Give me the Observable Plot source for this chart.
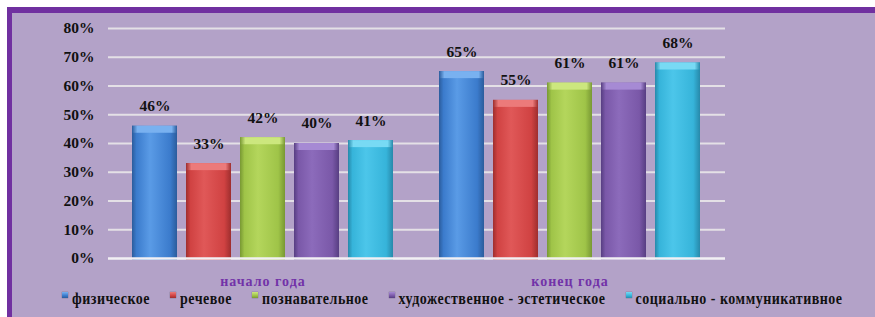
<!DOCTYPE html>
<html><head><meta charset="utf-8">
<script src="https://cdn.jsdelivr.net/npm/d3@7"></script>
<script src="https://cdn.jsdelivr.net/npm/@observablehq/plot@0.6"></script>
<style>
html,body{margin:0;padding:0}
body{background:#fff;width:875px;height:317px;overflow:hidden;position:relative;font-family:"Liberation Serif",serif}
#frame{position:absolute;left:7px;top:7px;width:868px;height:310px;box-sizing:border-box;border-top:6px solid #7030a0;border-left:5px solid #7030a0;background:#b3a2c8}
.layer{position:absolute;left:0;top:0}
.layer svg{background:transparent;overflow:visible}
#legend{position:absolute;left:62px;top:292px;display:flex;gap:20px}
.item{display:flex;align-items:flex-start}
.sw{width:6px;height:6px;margin-top:0px;margin-right:4px;box-shadow:0 0 1px rgba(0,0,0,.5)}
.lab{font:bold 14px "Liberation Serif",serif;line-height:16px;letter-spacing:0.5px;color:#111;white-space:nowrap;transform:scaleY(1.25);transform-origin:50% 13px}
#bars g[aria-label="fx-axis tick label"] text{letter-spacing:1px}
</style>
</head><body>
<div id="frame"></div>
<svg width="0" height="0" style="position:absolute"><defs id="defs"></defs></svg>
<div id="grid" class="layer"></div>
<div id="bars" class="layer"></div>
<div id="base" class="layer"></div>
<div id="legend"></div>
<script>
// ---- data ----
const groups = ["начало года", "конец года"];
const categories = ["физическое", "речевое", "познавательное", "художественное - эстетическое", "социально - коммуникативное"];
const startValues = [46, 33, 42, 40, 41];
const endValues = [65, 55, 61, 61, 68];
const yTicks = [0, 10, 20, 30, 40, 50, 60, 70, 80];
// palette: [dark edge, base, light, top bevel]
const palette = [
  ["#2b5c9c", "#3b7bcc", "#5a9be6", "#79b1f0"],
  ["#9e2e2e", "#d04242", "#e05858", "#ec7a7a"],
  ["#789833", "#9fc448", "#b4d65c", "#cce77e"],
  ["#573e82", "#7a58a8", "#8c6bbb", "#a68ad4"],
  ["#2789aa", "#36b4da", "#4cc6ea", "#78daf4"]
];

const data = groups.flatMap((g, gi) =>
  categories.map((c, ci) => ({group: g, category: c, ci, value: (gi === 0 ? startValues : endValues)[ci]})));

// gradients
const defs = d3.select("#defs");
palette.forEach(([dk, base, lt, top], i) => {
  const b = defs.append("linearGradient").attr("id", "body" + i).attr("x1", 0).attr("x2", 1).attr("y1", 0).attr("y2", 0);
  [[0, dk], [0.1, base], [0.4, lt], [0.85, base], [1, dk]].forEach(([o, c]) => b.append("stop").attr("offset", o).attr("stop-color", c));
  const t = defs.append("linearGradient").attr("id", "top" + i).attr("x1", 0).attr("x2", 1).attr("y1", 0).attr("y2", 0);
  [[0, dk], [0.12, top], [0.5, top], [0.88, top], [1, dk]].forEach(([o, c]) => t.append("stop").attr("offset", o).attr("stop-color", c));
});

const common = {
  width: 875, height: 295,
  marginLeft: 108, marginRight: 150, marginTop: 28, marginBottom: 37,
  y: {domain: [0, 80], axis: null},
  style: {fontFamily: "Liberation Serif, serif", background: "transparent", color: "#111"}
};

// layer 1: gridlines + y axis
document.getElementById("grid").append(Plot.plot({
  ...common,
  marks: [
    Plot.ruleY(yTicks.filter(d => d > 0), {stroke: "#e4e0e6", strokeWidth: 2}),
    Plot.axisY({ticks: yTicks, tickSize: 0, tickPadding: 14, tickFormat: d => d + "%", fontSize: 15.5, fontWeight: "bold", fill: "#111"})
  ]
}));

// layer 2: bars
document.getElementById("bars").append(Plot.plot({
  ...common,
  fx: {domain: groups, paddingInner: 0.136, paddingOuter: 0.07, label: null},
  x: {domain: categories, paddingInner: 0.164, paddingOuter: 0, axis: null},
  color: {type: "identity"},
  marks: [
    Plot.barY(data, {fx: "group", x: "category", y: "value", fill: d => `url(#body${d.ci})`, insetBottom: -2}),
    Plot.barY(data, {fx: "group", x: "category", y1: "value", y2: "value", insetBottom: -7, fill: d => `url(#top${d.ci})`}),
    Plot.text(data, {fx: "group", x: "category", y: "value", text: d => d.value + "%", dy: -20, lineAnchor: "middle", fontSize: 15.5, fontWeight: "bold", fill: "#111"}),
    Plot.axisFx({anchor: "bottom", tickSize: 0, tickPadding: 18, fill: "#7232a8", fontSize: 14, fontWeight: "bold", label: null})
  ]
}));

// layer 3: baseline
document.getElementById("base").append(Plot.plot({
  ...common,
  marks: [Plot.ruleY([0], {stroke: "#f2f0f4", strokeWidth: 2.5})]
}));

// legend
const legend = d3.select("#legend");
categories.forEach((c, i) => {
  const it = legend.append("div").attr("class", "item");
  const [dk, base, lt, top] = palette[i];
  it.append("span").attr("class", "sw").style("background", `linear-gradient(${top}, ${base} 60%, ${dk})`);
  it.append("span").attr("class", "lab").text(c);
});
</script>
</body></html>
